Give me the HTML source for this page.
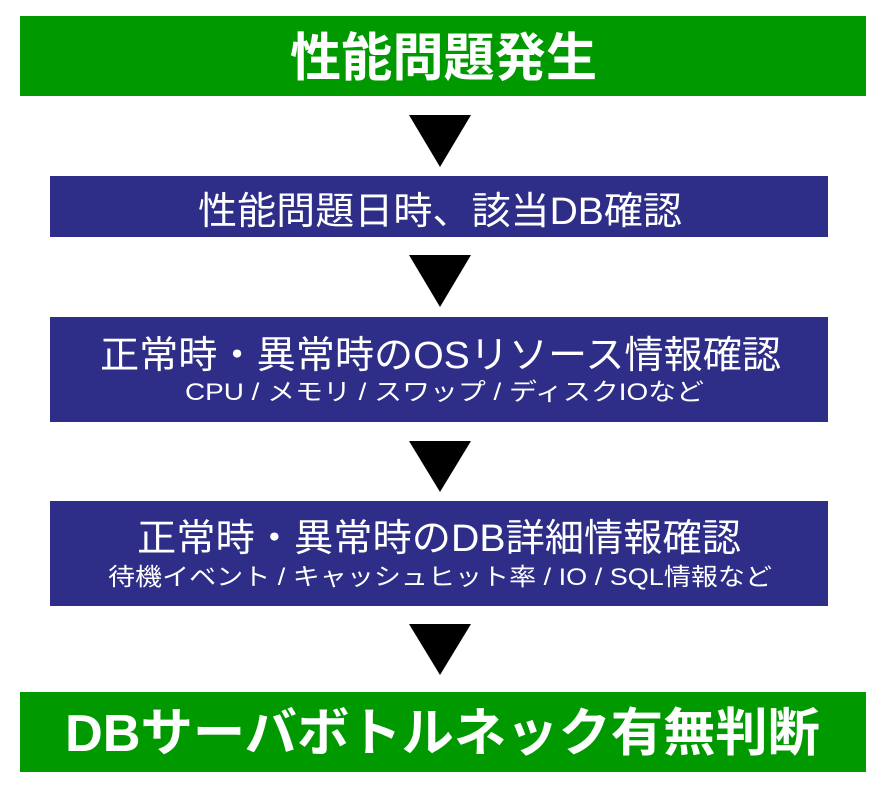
<!DOCTYPE html>
<html><head><meta charset="utf-8"><style>
html,body{margin:0;padding:0;background:#fff;}
svg{display:block}
text{font-family:"Liberation Sans","Noto Sans CJK JP",sans-serif;fill:#fff;}
</style></head><body>
<svg width="886" height="785" viewBox="0 0 886 785" xmlns="http://www.w3.org/2000/svg">
<rect x="20" y="16" width="846" height="80" fill="#009a00"/>
<text x="290" y="76" font-size="52" font-weight="bold" textLength="307" lengthAdjust="spacingAndGlyphs">性能問題発生</text>

<polygon points="409,115 471,115 440,167" fill="#000"/>

<rect x="50" y="176" width="778" height="61" fill="#2e2d88"/>
<text x="198" y="224" font-size="38" textLength="484" lengthAdjust="spacingAndGlyphs">性能問題日時、該当DB確認</text>

<polygon points="409,255 471,255 440,307" fill="#000"/>

<rect x="50" y="317" width="778" height="105" fill="#2e2d88"/>
<text x="100" y="368" font-size="38" textLength="681" lengthAdjust="spacingAndGlyphs">正常時・異常時のOSリソース情報確認</text>
<text x="185" y="400" font-size="24" textLength="519" lengthAdjust="spacingAndGlyphs">CPU / メモリ / スワップ / ディスクIOなど</text>

<polygon points="409,441 471,441 440,492" fill="#000"/>

<rect x="50" y="501" width="778" height="105" fill="#2e2d88"/>
<text x="137" y="551" font-size="38" textLength="604" lengthAdjust="spacingAndGlyphs">正常時・異常時のDB詳細情報確認</text>
<text x="108" y="585" font-size="24" textLength="664" lengthAdjust="spacingAndGlyphs">待機イベント / キャッシュヒット率 / IO / SQL情報など</text>

<polygon points="409,624 471,624 440,675" fill="#000"/>

<rect x="20" y="692" width="846" height="80" fill="#009a00"/>
<text x="65" y="751" font-size="52" font-weight="bold" textLength="755" lengthAdjust="spacingAndGlyphs">DBサーバボトルネック有無判断</text>
</svg>
</body></html>
